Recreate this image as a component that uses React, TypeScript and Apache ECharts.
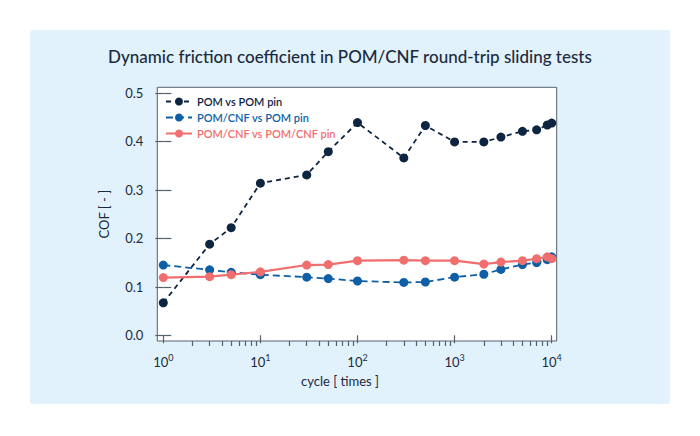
import React, { useEffect, useRef } from "react";
import * as echarts from "echarts";

// ---- data ----
const CYCLES = [1, 3, 5, 10, 30, 50, 100, 300, 500, 1000, 2000, 3000, 5000, 7000, 9000, 10000];
const POM_POM = [0.067, 0.188, 0.222, 0.314, 0.331, 0.379, 0.439, 0.366, 0.433, 0.399, 0.399, 0.409, 0.421, 0.424, 0.434, 0.438];
const CNF_POM = [0.145, 0.135, 0.13, 0.125, 0.12, 0.117, 0.112, 0.109, 0.11, 0.12, 0.126, 0.136, 0.146, 0.15, 0.156, 0.162];
const CNF_CNF = [0.119, 0.121, 0.125, 0.131, 0.145, 0.146, 0.154, 0.155, 0.154, 0.154, 0.147, 0.151, 0.154, 0.158, 0.162, 0.158];
const SERIES_NAMES = ["POM vs POM pin", "POM/CNF vs POM pin", "POM/CNF vs POM/CNF pin"];
const X_EXPONENTS = [0, 1, 2, 3, 4];
const MINOR_MULTIPLIERS = [2, 3, 4, 5, 6, 7, 8, 9];
const Y_TICKS = [0, 0.1, 0.2, 0.3, 0.4, 0.5];
const TITLE = "Dynamic friction coefficient in POM/CNF round-trip sliding tests";
const X_NAME = "cycle [ times ]";
const Y_NAME = "COF [ - ]";

// axis ranges (box slightly larger than data range)
const X_MIN_LOG = -0.0618;
const X_MAX_LOG = 4.0515;
const Y_MIN = -0.0118;
const Y_MAX = 0.5118;

const FONT = "Lato";
const NAVY = "#0e2541";
const BLUE = "#0f5fa6";
const CORAL = "#f06e6e";
const TEXT = "#1b2a3d";
const AXIS = "#56616c";

export default function App() {
  const ref = useRef<HTMLDivElement>(null);
  useEffect(() => {
    if (!ref.current) return;
    const chart = echarts.init(ref.current, undefined, { renderer: "svg" });
    const minorTicks: number[] = [];
    X_EXPONENTS.slice(0, -1).forEach((e) =>
      MINOR_MULTIPLIERS.forEach((m) => minorTicks.push(Math.log10(m * Math.pow(10, e))))
    );
    const pairs = (ys: number[]) => CYCLES.map((c, i) => [c, ys[i]]);
    const colors = [NAVY, BLUE, CORAL];
    const dashes: any[] = [[5, 4], [7, 4], "solid"];
    const valuesList = [POM_POM, CNF_POM, CNF_CNF];

    chart.setOption({
      animation: false,
      backgroundColor: "#ffffff",
      textStyle: { fontFamily: FONT },
      graphic: [
        {
          type: "rect",
          z: -10,
          silent: true,
          shape: { x: 30, y: 30, width: 640, height: 374, r: 3 },
          style: { fill: "#e1f2fc" },
        },
      ],
      title: {
        text: TITLE,
        left: "center",
        top: 43,
        textStyle: { fontFamily: FONT, fontSize: 17, fontWeight: 500, color: TEXT },
      },
      legend: {
        orient: "vertical",
        left: 165,
        top: 95,
        padding: 0,
        itemWidth: 26,
        itemHeight: 10,
        itemGap: 3,
        textStyle: { fontFamily: FONT, fontSize: 11, fontWeight: 600, lineHeight: 13 },
        data: SERIES_NAMES.map((n, i) => ({ name: n, textStyle: { color: colors[i] } })),
      },
      grid: {
        left: 157.3,
        right: 143.3,
        top: 87.3,
        bottom: 95,
        show: true,
        backgroundColor: "#ffffff",
        borderColor: AXIS,
        borderWidth: 1,
      },
      xAxis: [
        {
          type: "log",
          show: false,
          min: Math.pow(10, X_MIN_LOG),
          max: Math.pow(10, X_MAX_LOG),
        },
        {
          type: "value",
          position: "bottom",
          min: X_MIN_LOG,
          max: X_MAX_LOG,
          axisLine: { show: false },
          splitLine: { show: false },
          axisTick: { show: true, length: 8, lineStyle: { color: AXIS, width: 1.2 }, customValues: X_EXPONENTS },
          axisLabel: {
            customValues: X_EXPONENTS,
            margin: 12,
            formatter: (v: number) => `{b|10}{s|${Math.round(v)}}`,
            rich: {
              b: { fontFamily: FONT, fontSize: 13, color: TEXT, lineHeight: 15, verticalAlign: "bottom" },
              s: { fontFamily: FONT, fontSize: 9, color: TEXT, lineHeight: 15, verticalAlign: "top" },
            },
          },
          name: X_NAME,
          nameLocation: "middle",
          nameGap: 33,
          nameTextStyle: { fontFamily: FONT, fontSize: 13, color: TEXT, padding: [0, 34, 0, 0] },
        },
        {
          type: "value",
          position: "bottom",
          min: X_MIN_LOG,
          max: X_MAX_LOG,
          axisLine: { show: false },
          splitLine: { show: false },
          axisTick: { show: true, length: 5, lineStyle: { color: AXIS, width: 1.2 }, customValues: minorTicks },
          axisLabel: { show: false },
        },
      ],
      yAxis: [
        {
          type: "value",
          min: Y_MIN,
          max: Y_MAX,
          axisLine: { show: false },
          splitLine: { show: false },
          axisTick: { show: true, length: 8, lineStyle: { color: AXIS, width: 1.2 }, customValues: Y_TICKS },
          axisLabel: {
            customValues: Y_TICKS,
            margin: 14,
            formatter: (v: number) => v.toFixed(1),
            fontFamily: FONT,
            fontSize: 13,
            color: TEXT,
          },
          name: Y_NAME,
          nameLocation: "middle",
          nameGap: 47,
          nameTextStyle: { fontFamily: FONT, fontSize: 13, color: TEXT },
        },
        {
          type: "value",
          position: "right",
          min: Y_MIN,
          max: Y_MAX,
          axisLine: { show: false },
          splitLine: { show: false },
          axisTick: { show: true, length: 8, lineStyle: { color: AXIS, width: 1.2 }, customValues: Y_TICKS },
          axisLabel: { show: false },
        },
      ],
      series: SERIES_NAMES.map((n, i) => ({
        name: n,
        type: "line",
        xAxisIndex: 0,
        yAxisIndex: 0,
        data: pairs(valuesList[i]),
        symbol: "circle",
        symbolSize: 9,
        clip: false,
        itemStyle: { color: colors[i] },
        lineStyle: { color: colors[i], width: i === 2 ? 2.2 : 1.8, type: dashes[i] },
        emphasis: { disabled: true },
      })),
    });
    return () => chart.dispose();
  }, []);
  return <div ref={ref} style={{ position: "fixed", left: 0, top: 0, width: 700, height: 436 }} />;
}
